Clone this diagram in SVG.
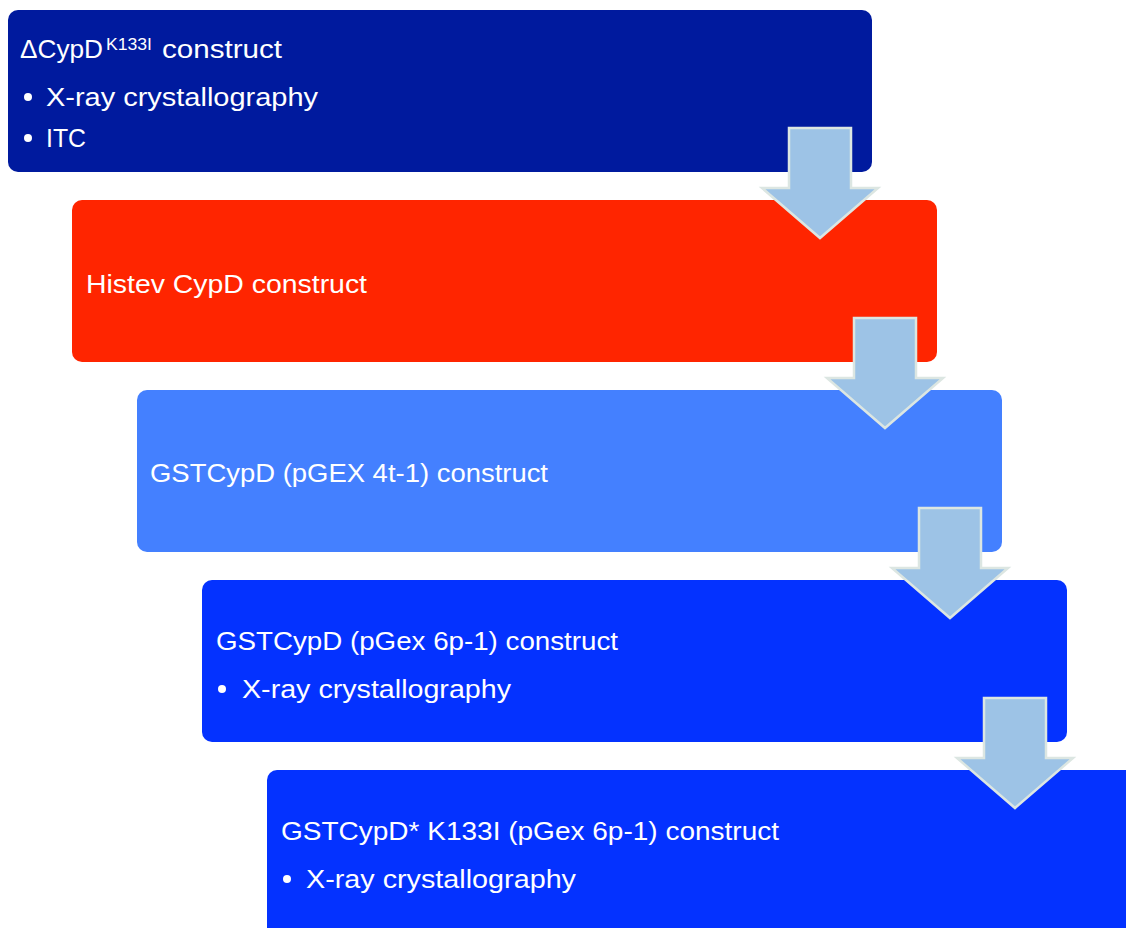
<svg xmlns="http://www.w3.org/2000/svg" width="1126" height="928" viewBox="0 0 1126 928">
  <style>
    .box { stroke: none; }
    .t { font-family: "Liberation Sans", Arial, sans-serif; font-size: 26px; fill: #ffffff; }
    .sup { font-family: "Liberation Sans", Arial, sans-serif; font-size: 16px; fill: #ffffff; }
    .dot { fill: #ffffff; }
    .arrow { fill: #9DC3E6; stroke: #DCE6E2; stroke-width: 2.5; stroke-linejoin: miter; }
  </style>
  <defs>
    <!-- down-pointing block arrow, drawn around (0,0) = top centre of the shaft -->
    <path id="blockArrow" d="M -31 0 L 31 0 L 31 60 L 58 60 L 0 110 L -58 60 L -31 60 Z"/>
  </defs>

  <rect width="1126" height="928" fill="#ffffff"/>

  <g id="node-deltaCypD">
    <rect class="box" x="8" y="10" width="864" height="162" rx="10" fill="#001A9E"/>
    <text class="t" x="20" y="58" textLength="83" lengthAdjust="spacingAndGlyphs">ΔCypD</text>
    <text class="sup" x="106" y="50" textLength="46" lengthAdjust="spacingAndGlyphs">K133I</text>
    <text class="t" x="162" y="58" textLength="120" lengthAdjust="spacingAndGlyphs">construct</text>
    <circle class="dot" cx="28" cy="97" r="4"/>
    <text class="t" x="46" y="106" textLength="272" lengthAdjust="spacingAndGlyphs">X-ray crystallography</text>
    <circle class="dot" cx="28" cy="138" r="4"/>
    <text class="t" x="46" y="147" textLength="40" lengthAdjust="spacingAndGlyphs">ITC</text>
  </g>

  <g id="node-histev">
    <rect class="box" x="72" y="200" width="865" height="162" rx="10" fill="#FF2500"/>
    <text class="t" x="86" y="293" textLength="281" lengthAdjust="spacingAndGlyphs">Histev CypD construct</text>
  </g>

  <g id="node-gst-4t1">
    <rect class="box" x="137" y="390" width="865" height="162" rx="10" fill="#4480FF"/>
    <text class="t" x="150" y="482" textLength="398" lengthAdjust="spacingAndGlyphs">GSTCypD (pGEX 4t-1) construct</text>
  </g>

  <g id="node-gst-6p1">
    <rect class="box" x="202" y="580" width="865" height="162" rx="10" fill="#0432FF"/>
    <text class="t" x="216" y="650" textLength="402" lengthAdjust="spacingAndGlyphs">GSTCypD (pGex 6p-1) construct</text>
    <circle class="dot" cx="222" cy="689" r="4"/>
    <text class="t" x="242" y="698" textLength="269" lengthAdjust="spacingAndGlyphs">X-ray crystallography</text>
  </g>

  <g id="node-gst-k133i">
    <rect class="box" x="267" y="770" width="875" height="170" rx="10" fill="#0432FF"/>
    <text class="t" x="281" y="840" textLength="498" lengthAdjust="spacingAndGlyphs">GSTCypD* K133I (pGex 6p-1) construct</text>
    <circle class="dot" cx="287" cy="879" r="4"/>
    <text class="t" x="306" y="888" textLength="270" lengthAdjust="spacingAndGlyphs">X-ray crystallography</text>
  </g>

  <g id="connectors">
    <use href="#blockArrow" class="arrow" transform="translate(820 128)"/>
    <use href="#blockArrow" class="arrow" transform="translate(885 318)"/>
    <use href="#blockArrow" class="arrow" transform="translate(950 508)"/>
    <use href="#blockArrow" class="arrow" transform="translate(1015 698)"/>
  </g>
</svg>
